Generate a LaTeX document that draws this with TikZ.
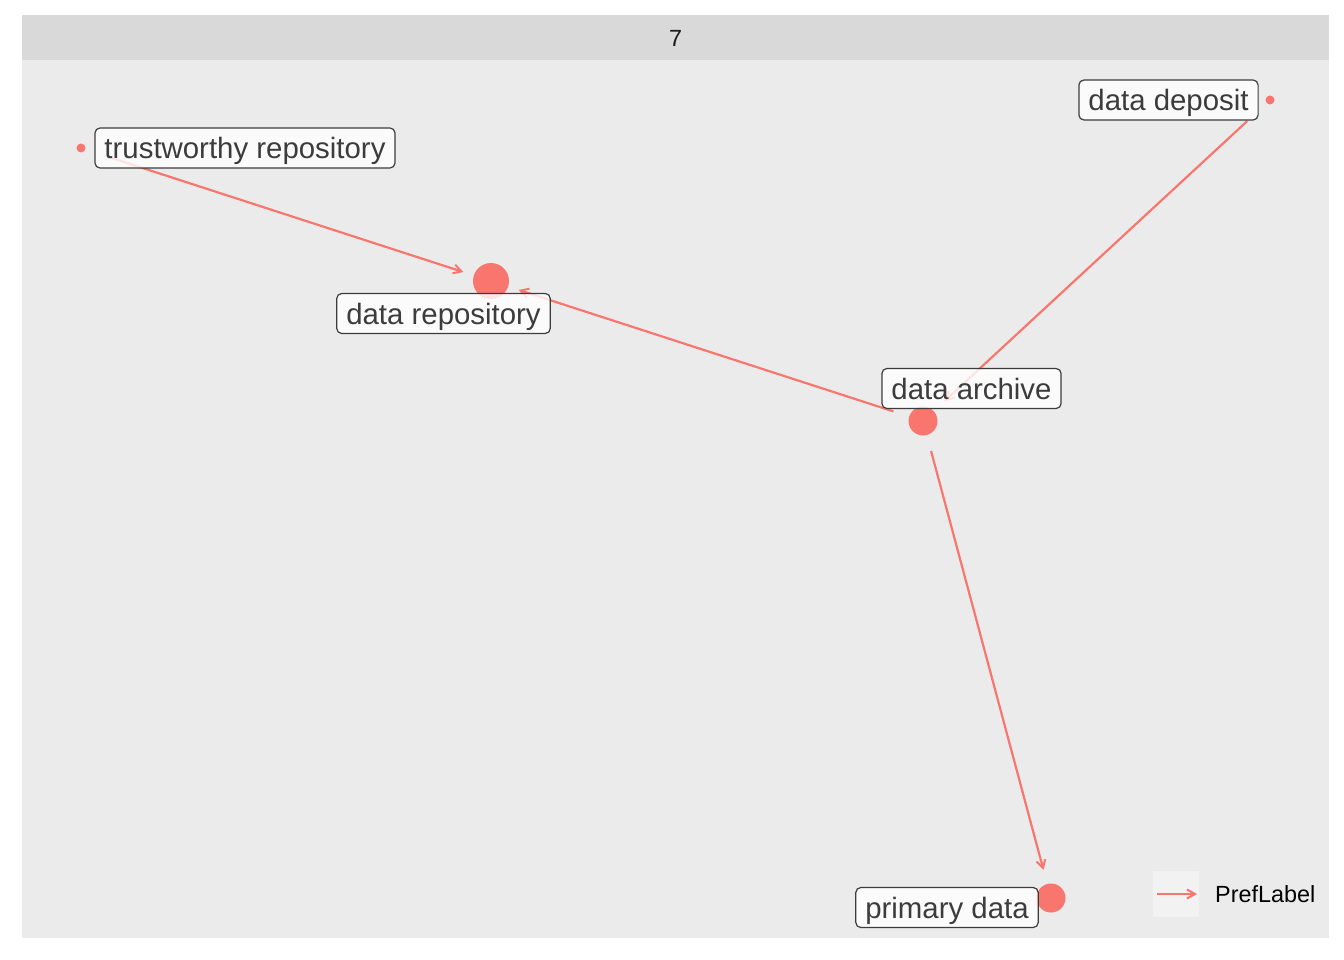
\documentclass[tikz,border=0pt]{standalone}
\usepackage{fontspec}
\setmainfont{Liberation Sans}
\usetikzlibrary{arrows.meta}
\definecolor{edgered}{HTML}{F8766D}
\definecolor{panelgray}{HTML}{EBEBEB}
\definecolor{stripgray}{HTML}{D9D9D9}
\definecolor{keygray}{HTML}{F2F2F2}
\definecolor{labgray}{HTML}{3C3C3C}
\definecolor{striptext}{HTML}{1A1A1A}
\begin{document}
\begin{tikzpicture}[x=1pt,y=-1pt,
    edge/.style={edgered, line width=2.2pt, -{Straight Barb[length=8pt,width=9pt,line width=2pt]}, shorten <=31pt, shorten >=29pt},
    vertex/.style={circle, fill=edgered, inner sep=0pt},
    lab/.style={draw=labgray, line width=1.2pt, rounded corners=5pt, fill=white, fill opacity=0.8, text opacity=1, text=labgray,
        font=\fontsize{29.4}{30}\selectfont, inner xsep=9.5pt, inner ysep=6pt, text height=24.5pt, text depth=3.5pt},
    small/.style={font=\fontsize{23.4}{24}\selectfont, inner sep=0pt}]
    % Canvas, panel and strip
    \useasboundingbox (0,0) rectangle (1344,960);
    \fill[white] (0,0) rectangle (1344,960);
    \fill[panelgray] (22,60) rectangle (1329,938);
    \fill[stripgray] (22,15) rectangle (1329,60);
    \node[small, text=striptext] (facet) at (675.5,38) {7};

    % Vertex Coordinates
    \coordinate (tr) at (81,148);  \coordinate (dd) at (1270,100);
    \coordinate (drp) at (491,281); \coordinate (da) at (923,421);
    \coordinate (pd) at (1051,898);

    % Edges
    \draw[edge] (tr)--(drp);
    \draw[edge] (da)--(drp);
    \draw[edge] (dd)--(da);
    \draw[edge] (da)--(pd);

    % Vertices
    \foreach \p/\d in {tr/9, dd/9, drp/36, da/29, pd/29}
        \node[vertex, minimum size=\d pt] (\p dot) at (\p) {};

    % Labels
    \node[lab] (trlab) at (245,148) {trustworthy repository};
    \node[lab] (ddlab) at (1168.5,100) {data deposit};
    \node[lab] (drplab) at (443.5,313.5) {data repository};
    \node[lab] (dalab) at (971.5,388.5) {data archive};
    \node[lab] (pdlab) at (947,907.5) {primary data};

    % Legend
    \node[fill=keygray, minimum size=46pt, inner sep=0pt] (key) at (1176,894) {};
    \coordinate (keyl) at (1157,894); \coordinate (keyr) at (1197,894);
    \draw[edgered, line width=2.2pt, -{Straight Barb[length=8pt,width=9pt,line width=2pt]}] (keyl)--(keyr);
    \node[small, anchor=west] (legtext) at (1215,894) {PrefLabel};
\end{tikzpicture}
\end{document}
